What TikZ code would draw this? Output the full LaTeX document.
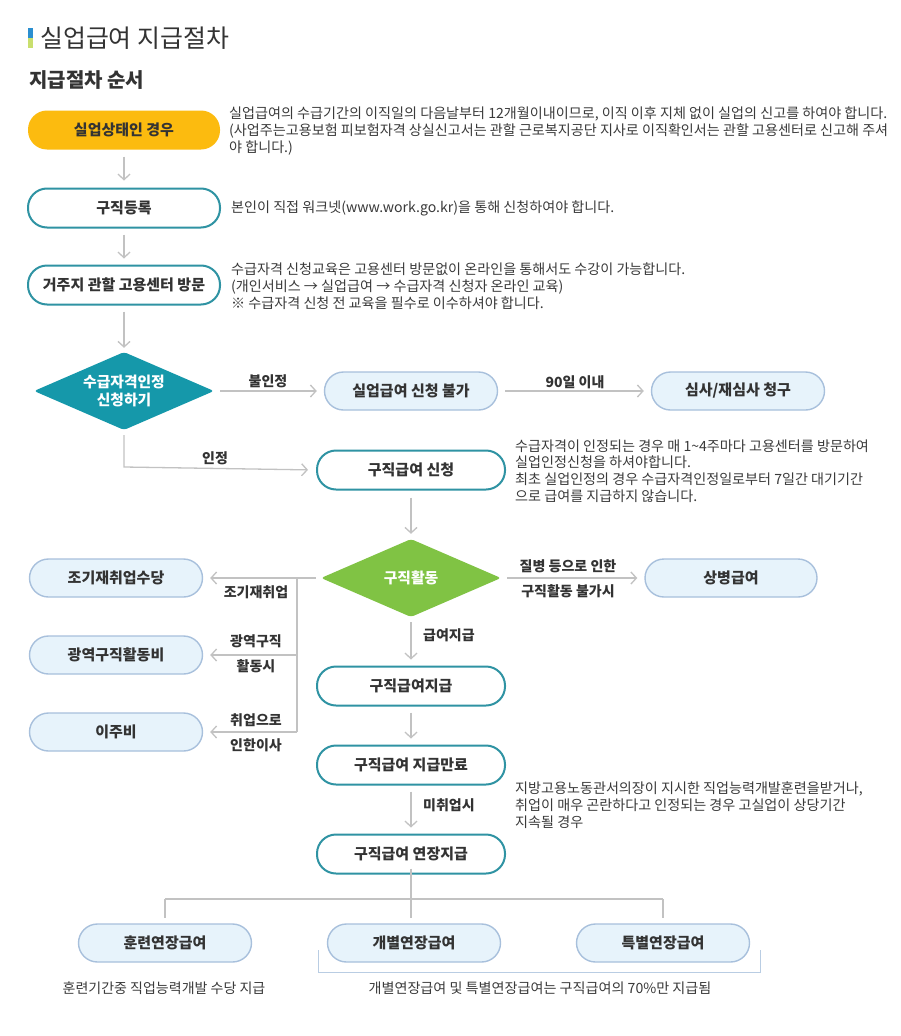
\documentclass[tikz,border=0pt]{standalone}
\usepackage{fontspec}
\setmainfont{Noto Sans CJK KR}
\usetikzlibrary{arrows.meta,shapes.geometric,positioning}
\definecolor{txt}{HTML}{333333}
\definecolor{desctxt}{HTML}{3A3A3A}
\definecolor{orangebox}{HTML}{FCBB0F}
\definecolor{tealline}{HTML}{2F93A3}
\definecolor{tealfill}{HTML}{1598AA}
\definecolor{greenfill}{HTML}{80C344}
\definecolor{lightfill}{HTML}{E7F3FB}
\definecolor{lightline}{HTML}{A8C0DC}
\definecolor{arrowgray}{HTML}{C2C2C2}
\definecolor{barblue}{HTML}{2B8FD0}
\definecolor{bargreen}{HTML}{C9DF6E}
\begin{document}
\begin{tikzpicture}[x=1pt,y=-1pt,
  every node/.style={text=txt},
  pill/.style={rectangle, rounded corners=19pt, minimum height=39pt, inner sep=0pt,
    font=\fontsize{15}{17}\selectfont\bfseries},
  orangepill/.style={pill, fill=orangebox, minimum width=192pt},
  tealpill/.style={pill, draw=tealline, line width=2pt, fill=white},
  lightpill/.style={pill, draw=lightline, line width=1.4pt, fill=lightfill, minimum height=38pt, minimum width=173pt},
  decision/.style={diamond, aspect=2.3, minimum width=180pt, minimum height=78pt, inner sep=0pt,
    rounded corners=3pt, text=white, align=center, font=\fontsize{14.8}{18}\selectfont\bfseries},
  conn/.style={draw=arrowgray, line width=1.3pt, -{Straight Barb[length=5.5pt,width=12pt]}},
  plainconn/.style={draw=arrowgray, line width=1.3pt},
  elabel/.style={font=\fontsize{14}{16}\selectfont\bfseries, inner sep=0pt},
  desc/.style={font=\fontsize{14.1}{16.8}\selectfont, align=left, anchor=west, inner sep=0pt, text=desctxt}
]
\useasboundingbox[fill=white] (0,0) rectangle (900,1036);

% title
\fill[barblue] (28,28) rectangle (32.5,38);
\fill[bargreen] (28,38) rectangle (32.5,48);
\node[anchor=west, inner sep=0pt, font=\fontsize{24.9}{28}\selectfont] (title) at (40,38) {실업급여 지급절차};
\node[anchor=west, inner sep=0pt, font=\fontsize{20}{24}\selectfont\bfseries] (subtitle) at (29,80) {지급절차 순서};

% main column top
\node[orangepill] (b1) at (124,130) {실업상태인 경우};
\node[tealpill, minimum width=192pt] (b2) at (124,208) {구직등록};
\node[tealpill, minimum width=192pt] (b3) at (124,285) {거주지 관할 고용센터 방문};
\node[decision, fill=tealfill] (d1) at (124,391) {수급자격인정\\신청하기};

\node[lightpill] (b4) at (411,391) {실업급여 신청 불가};
\node[lightpill] (b5) at (738,391) {심사/재심사 청구};
\node[tealpill, minimum width=188pt] (b6) at (411,470) {구직급여 신청};

\node[decision, fill=greenfill] (d2) at (411,578) {구직활동};
\node[lightpill] (l1) at (116,578) {조기재취업수당};
\node[lightpill] (l2) at (116,655) {광역구직활동비};
\node[lightpill] (l3) at (116,732) {이주비};
\node[lightpill, minimum width=172pt] (r1) at (731,578) {상병급여};

\node[tealpill, minimum width=188pt] (b7) at (411,686) {구직급여지급};
\node[tealpill, minimum width=188pt] (b8) at (411,765) {구직급여 지급만료};
\node[tealpill, minimum width=188pt] (b9) at (411,854) {구직급여 연장지급};

\node[lightpill] (e1) at (165,943) {훈련연장급여};
\node[lightpill] (e2) at (414,943) {개별연장급여};
\node[lightpill] (e3) at (663,943) {특별연장급여};

% descriptions
\node[desc] (t1) at (229,131) {실업급여의 수급기간의 이직일의 다음날부터 12개월이내이므로, 이직 이후 지체 없이 실업의 신고를 하여야 합니다.\\(사업주는고용보험 피보험자격 상실신고서는 관할 근로복지공단 지사로 이직확인서는 관할 고용센터로 신고해 주셔\\야 합니다.)};
\node[desc] (t2) at (231,208) {본인이 직접 워크넷(www.work.go.kr)을 통해 신청하여야 합니다.};
\node[desc] (t3) at (231,286) {수급자격 신청교육은 고용센터 방문없이 온라인을 통해서도 수강이 가능합니다.\\(개인서비스 → 실업급여 → 수급자격 신청자 온라인 교육)\\※ 수급자격 신청 전 교육을 필수로 이수하셔야 합니다.};
\node[desc] (t4) at (515,471) {수급자격이 인정되는 경우 매 1\textasciitilde4주마다 고용센터를 방문하여\\실업인정신청을 하셔야합니다.\\최초 실업인정의 경우 수급자격인정일로부터 7일간 대기기간\\으로 급여를 지급하지 않습니다.};
\node[desc] (t5) at (515,805) {지방고용노동관서의장이 지시한 직업능력개발훈련을받거나,\\취업이 매우 곤란하다고 인정되는 경우 고실업이 상당기간\\지속될 경우};
\node[font=\fontsize{14}{16}\selectfont, inner sep=0pt, text=desctxt] (t6) at (164,988) {훈련기간중 직업능력개발 수당 지급};
\node[font=\fontsize{14.1}{16}\selectfont, inner sep=0pt, text=desctxt] (t7) at (540,988) {개별연장급여 및 특별연장급여는 구직급여의 70\%만 지급됨};

% connectors
\draw[conn, shorten <=7pt, shorten >=7pt] (b1.south) -- (b2.north);
\draw[conn, shorten <=6pt, shorten >=6pt] (b2.south) -- (b3.north);
\draw[conn, shorten <=6pt, shorten >=4pt] (b3.south) -- (d1.north);
\draw[conn, shorten <=6pt, shorten >=7pt] (d1.east) -- (b4.west);
\draw[conn, shorten <=7pt, shorten >=7pt] (b4.east) -- (b5.west);
\coordinate (c1) at (124,467);
\draw[conn, shorten >=8pt] ([yshift=-5pt]d1.south) -- (c1) -- (b6.west);
\draw[conn, shorten <=7pt, shorten >=5pt] (b6.south) -- (d2.north);

\draw[conn, shorten <=5pt, shorten >=7pt] (d2.west) -- (l1.east);
\coordinate (j1) at (297,578);
\coordinate (j2) at (297,655);
\coordinate (j3) at (297,732);
\draw[plainconn] (j1) -- (j3);
\draw[conn, shorten >=7pt] (j2) -- (l2.east);
\draw[conn, shorten >=7pt] (j3) -- (l3.east);
\draw[conn, shorten <=6pt, shorten >=7pt] (d2.east) -- (r1.west);

\draw[conn, shorten <=5pt, shorten >=6pt] (d2.south) -- (b7.north);
\draw[conn, shorten <=6pt, shorten >=6pt] (b7.south) -- (b8.north);
\draw[conn, shorten <=6pt, shorten >=6pt] (b8.south) -- (b9.north);

\coordinate (h0) at (411,899);
\coordinate (h1) at (165,899);
\coordinate (h3) at (663,899);
\draw[plainconn] ([yshift=6pt]b9.south) -- (411,918);
\draw[plainconn] (h1) -- (h3);
\draw[plainconn] (h1) -- (165,918);
\draw[plainconn] (h3) -- (663,918);
\draw[draw=lightline!80!white, line width=1pt] (318,950) -- (318,972) -- (760,972) -- (760,950);

% edge labels
\node[elabel] (lb1) at (268,381) {불인정};
\node[elabel] (lb2) at (575,382) {90일 이내};
\node[elabel] (lb3) at (215,458) {인정};
\node[elabel] (lb4) at (256,592) {조기재취업};
\node[elabel] (lb5) at (256,641) {광역구직};
\node[elabel] (lb6) at (256,666) {활동시};
\node[elabel] (lb7) at (256,720) {취업으로};
\node[elabel] (lb8) at (256,745) {인한이사};
\node[elabel] (lb9) at (568,566) {질병 등으로 인한};
\node[elabel] (lb10) at (568,591) {구직활동 불가시};
\node[elabel, anchor=west] (lb11) at (423,635) {급여지급};
\node[elabel, anchor=west] (lb12) at (423,805) {미취업시};
\end{tikzpicture}
\end{document}
